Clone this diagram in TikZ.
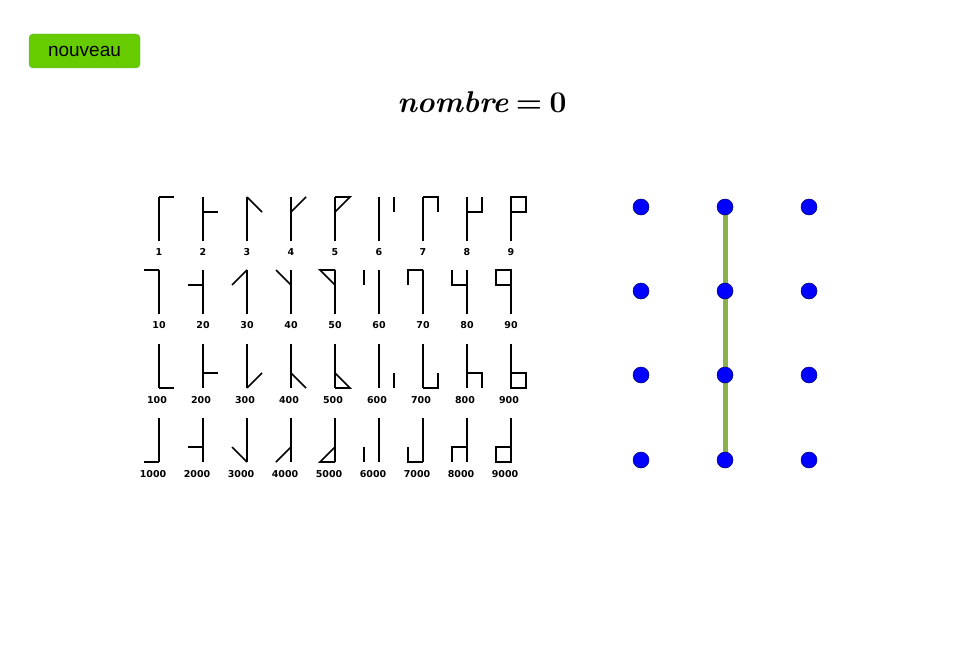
\documentclass[tikz,border=0pt]{standalone}
\usepackage{amsmath}
\usepackage{amssymb}
\usepackage{fontspec}
\newfontfamily\labelfont{DejaVu Sans}
\newfontfamily\buttonfont{Liberation Sans}
\usetikzlibrary{positioning,calc}
\definecolor{btngreen}{HTML}{66CC00}
\definecolor{linegreen}{HTML}{8CB04A}
\tikzset{
  glyph/.style={line width=1.7pt,line cap=butt,line join=miter},
  numlabel/.style={font=\labelfont\bfseries\fontsize{9.5}{11}\selectfont,inner sep=0pt},
  dot/.style={circle,fill=blue,draw=blue!40!black,line width=0.5pt,minimum size=16pt,inner sep=0pt},
  stroke/.style={line width=5pt,draw=linegreen}
}
% one digit of a Cistercian numeral, stem at x=0, top at y=0
\newcommand{\cisarm}[1]{%
  \ifcase#1\relax
  \or \draw[glyph] (0,0) -- (15,0);
  \or \draw[glyph] (0,15) -- (15,15);
  \or \draw[glyph] (0,0) -- (15,15);
  \or \draw[glyph] (0,15) -- (15,0);
  \or \draw[glyph] (0,0) -- (15,0) -- (0,15);
  \or \draw[glyph] (15,0) -- (15,15);
  \or \draw[glyph] (0,0) -- (15,0) -- (15,15);
  \or \draw[glyph] (0,15) -- (15,15) -- (15,0);
  \or \draw[glyph] (0,0) -- (15,0) -- (15,15) -- (0,15) -- cycle;
  \fi}
\begin{document}
\begin{tikzpicture}[x=1pt,y=-1pt]
  \useasboundingbox (0,0) rectangle (976,647);
  % button and title
  \node[draw=green!45!black!60,fill=btngreen,rounded corners=4pt,
        minimum width=111pt,minimum height=34pt,inner sep=0pt,
        font=\buttonfont\fontsize{19}{22}\selectfont] (btn) at (84.5,51) {nouveau};
  \node[font=\fontsize{30}{34}\selectfont\bfseries] (title) at (482,102) {\textit{nombre}\hspace{0.25em}=\hspace{0.25em}0};
  % table of numerals
  \foreach \d in {1,...,9} {
    \pgfmathsetmacro{\cx}{159+44*(\d-1)}
    \pgfmathtruncatemacro{\ten}{10*\d}
    \pgfmathtruncatemacro{\hun}{100*\d}
    \pgfmathtruncatemacro{\tho}{1000*\d}
    % units
    \draw[glyph] (\cx,197) -- (\cx,241);
    \begin{scope}[shift={(\cx,197)}] \cisarm{\d} \end{scope}
    \node[numlabel] (u\d) at (\cx,252) {\d};
    % tens
    \draw[glyph] (\cx,270) -- (\cx,314);
    \begin{scope}[shift={(\cx,270)},xscale=-1] \cisarm{\d} \end{scope}
    \node[numlabel] (t\d) at (\cx,325) {\ten};
    % hundreds
    \draw[glyph] (\cx,344) -- (\cx,388);
    \begin{scope}[shift={(\cx,388)},yscale=-1] \cisarm{\d} \end{scope}
    \node[numlabel] (h\d) at (\cx-2,400) {\hun};
    % thousands
    \draw[glyph] (\cx,418) -- (\cx,462);
    \begin{scope}[shift={(\cx,462)},xscale=-1,yscale=-1] \cisarm{\d} \end{scope}
    \node[numlabel] (m\d) at (\cx-6,474) {\tho};
  }
  % grid of points
  \foreach \c/\x in {0/641,1/725,2/809}
    \foreach \r/\y in {0/207,1/291,2/375,3/460}
      \coordinate (g\c\r) at (\x,\y);
  \draw[stroke] (g10) -- (g13);
  \foreach \c in {0,1,2}
    \foreach \r in {0,1,2,3}
      \node[dot] (p\c\r) at (g\c\r) {};
\end{tikzpicture}
\end{document}
